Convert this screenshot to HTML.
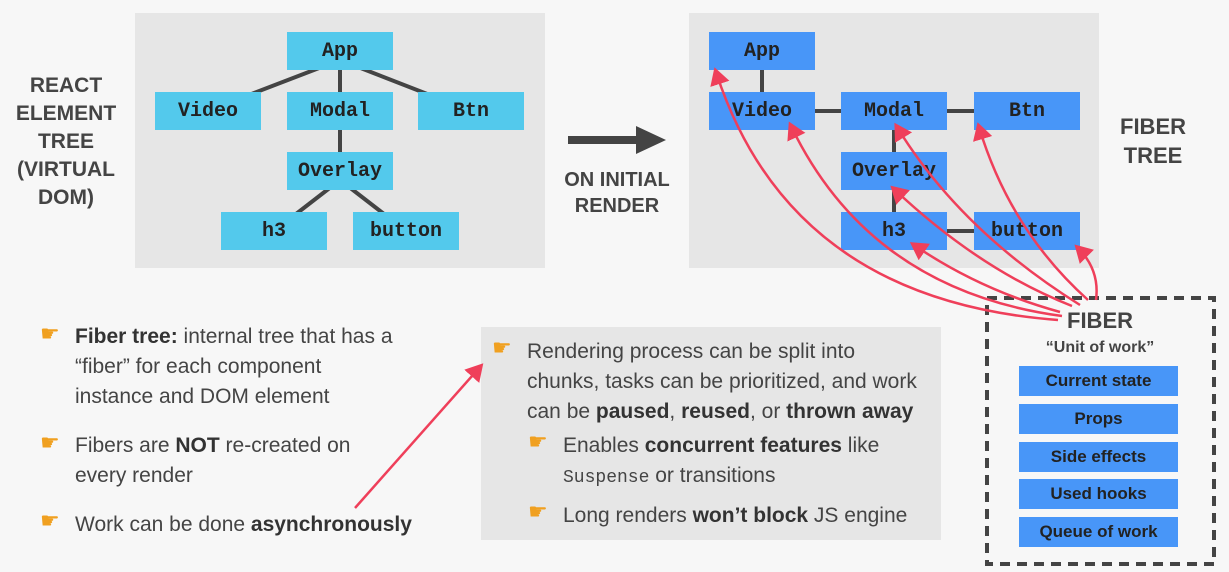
<!DOCTYPE html>
<html><head><meta charset="utf-8"><style>
body{margin:0;width:1229px;height:572px;background:#f7f7f7;position:relative;overflow:hidden;font-family:"Liberation Sans",sans-serif;color:#333}
.panel{position:absolute;background:#e6e6e6}
.n{position:absolute;height:38px;width:106px;display:flex;align-items:center;justify-content:center;font-family:"Liberation Mono",monospace;font-weight:bold;font-size:20px;color:#222}
.l{background:#53c9ec}.d{background:#4896f8}
.lab{position:absolute;font-weight:bold;font-size:21px;text-align:center;color:#444;line-height:28px}
.t{position:absolute;font-size:21px;line-height:30px;color:#444;white-space:nowrap}
.t b{color:#333}
.h{position:absolute;color:#f0a020;font-size:22px;font-family:"DejaVu Sans",sans-serif}
.fb{position:absolute;left:1019px;width:159px;height:30px;background:#4896f8;display:flex;align-items:center;justify-content:center;font-size:17px;font-weight:bold;color:#222}
</style></head><body>
<div class="panel" style="left:135px;top:13px;width:410px;height:255px"></div>
<div class="panel" style="left:689px;top:13px;width:410px;height:255px"></div>
<div class="panel" style="left:481px;top:327px;width:460px;height:213px"></div>
<svg width="1229" height="572" style="position:absolute;left:0;top:0">
<g stroke="#444" stroke-width="4">
<line x1="340" y1="60" x2="207" y2="111"/><line x1="340" y1="60" x2="471" y2="111"/><line x1="340" y1="60" x2="340" y2="170"/>
<line x1="340" y1="180" x2="274" y2="231"/><line x1="340" y1="180" x2="406" y2="231"/>
<line x1="762" y1="50" x2="762" y2="111"/><line x1="762" y1="111" x2="1026" y2="111"/><line x1="894" y1="111" x2="894" y2="231"/><line x1="894" y1="231" x2="1026" y2="231"/>
</g>
<line x1="568" y1="140" x2="640" y2="140" stroke="#444" stroke-width="8"/>
<polygon points="636,126 666,140 636,154" fill="#444"/>
<rect x="987" y="298" width="227" height="266" fill="none" stroke="#444" stroke-width="4" stroke-dasharray="10,7"/>
</svg>
<div class="n l" style="left:287px;top:32px">App</div>
<div class="n l" style="left:155px;top:92px">Video</div>
<div class="n l" style="left:287px;top:92px">Modal</div>
<div class="n l" style="left:418px;top:92px">Btn</div>
<div class="n l" style="left:287px;top:152px">Overlay</div>
<div class="n l" style="left:221px;top:212px">h3</div>
<div class="n l" style="left:353px;top:212px">button</div>
<div class="n d" style="left:709px;top:32px">App</div>
<div class="n d" style="left:709px;top:92px">Video</div>
<div class="n d" style="left:841px;top:92px">Modal</div>
<div class="n d" style="left:974px;top:92px">Btn</div>
<div class="n d" style="left:841px;top:152px">Overlay</div>
<div class="n d" style="left:841px;top:212px">h3</div>
<div class="n d" style="left:974px;top:212px">button</div>
<div class="lab" style="left:0;top:72px;width:132px">REACT<br>ELEMENT<br>TREE<br>(VIRTUAL<br>DOM)</div>
<div class="lab" style="left:1098px;top:112px;width:110px;font-size:22px;line-height:29px">FIBER<br>TREE</div>
<div class="lab" style="left:550px;top:167px;width:134px;font-size:20px;line-height:26px">ON INITIAL<br>RENDER</div>
<div class="lab" style="left:1040px;top:307px;width:120px;font-size:22px">FIBER</div>
<div class="lab" style="left:1020px;top:334px;width:160px;font-size:16px">“Unit of work”</div>
<div class="fb" style="top:366px">Current state</div>
<div class="fb" style="top:404px">Props</div>
<div class="fb" style="top:442px">Side effects</div>
<div class="fb" style="top:479px">Used hooks</div>
<div class="fb" style="top:517px">Queue of work</div>
<div class="h" style="left:40px;top:322px">☛</div>
<div class="t" style="left:75px;top:322px"><b>Fiber tree:</b> internal tree that has a<br>“fiber” for each component<br>instance and DOM element</div>
<div class="h" style="left:40px;top:431px">☛</div>
<div class="t" style="left:75px;top:431px">Fibers are <b>NOT</b> re-created on<br>every render</div>
<div class="h" style="left:40px;top:509px">☛</div>
<div class="t" style="left:75px;top:510px">Work can be done <b>asynchronously</b></div>
<div class="h" style="left:492px;top:336px">☛</div>
<div class="t" style="left:527px;top:337px">Rendering process can be split into<br>chunks, tasks can be prioritized, and work<br>can be <b>paused</b>, <b>reused</b>, or <b>thrown away</b></div>
<div class="h" style="left:528px;top:430px">☛</div>
<div class="t" style="left:563px;top:431px">Enables <b>concurrent features</b> like<br><span style="font-family:'Liberation Mono',monospace;font-size:18px">Suspense</span> or transitions</div>
<div class="h" style="left:528px;top:500px">☛</div>
<div class="t" style="left:563px;top:501px">Long renders <b>won’t block</b> JS engine</div>
<svg width="1229" height="572" style="position:absolute;left:0;top:0">
<defs><marker id="a" markerWidth="8" markerHeight="8" refX="5" refY="4" orient="auto" markerUnits="strokeWidth"><path d="M0,0 L7,4 L0,8 z" fill="#ef3f5a"/></marker></defs>
<g stroke="#ef3f5a" stroke-width="2.5" fill="none" marker-end="url(#a)">
<path d="M1058,320 Q790,300 716,72"/>
<path d="M1062,316 Q870,290 791,126"/>
<path d="M1080,305 Q960,230 897,127"/>
<path d="M1088,300 Q1010,230 979,127"/>
<path d="M1072,306 Q980,270 894,189"/>
<path d="M1060,312 Q980,290 914,245"/>
<path d="M1096,300 Q1100,270 1078,248"/>
<path d="M355,508 L480,367"/>
</g>
</svg>
</body></html>
